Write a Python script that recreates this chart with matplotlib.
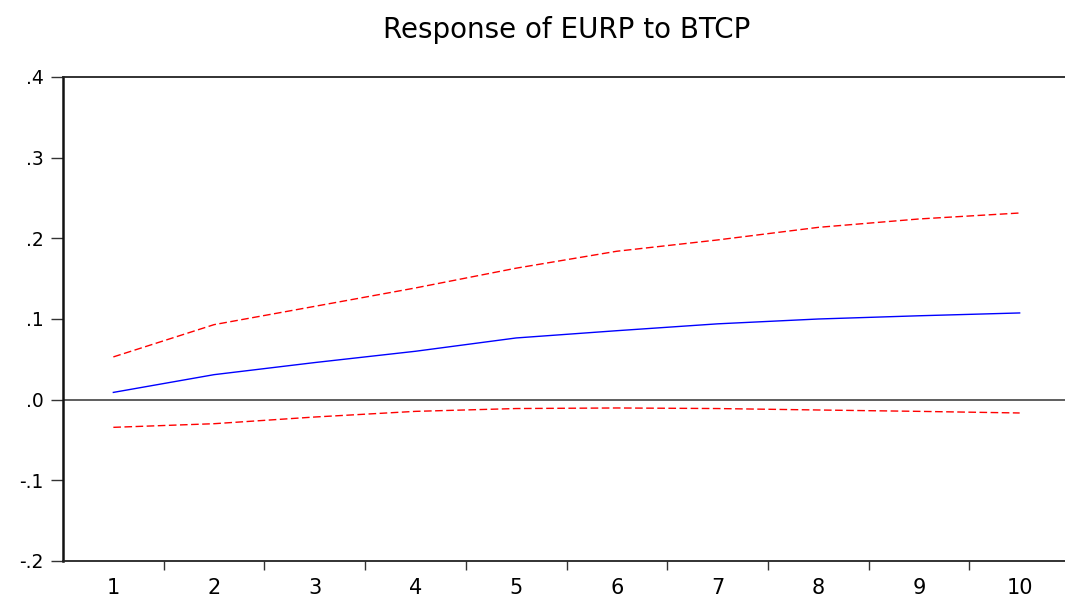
import numpy as np
import matplotlib.pyplot as plt
from matplotlib.ticker import FixedLocator, FuncFormatter

# impulse response of EURP to a BTCP shock, with +/- 2 S.E. bands
periods = np.arange(1, 11)
response = [0.009, 0.031, 0.046, 0.060, 0.0765, 0.0855, 0.094, 0.100, 0.104, 0.1075]
upper_band = [0.053, 0.093, 0.1157, 0.1385, 0.163, 0.184, 0.198, 0.2136, 0.224, 0.2314]
lower_band = [-0.0343, -0.0298, -0.0215, -0.0145, -0.011, -0.0103, -0.011, -0.0128, -0.0145, -0.0165]

plt.rcParams['font.family'] = ['DejaVu Sans']

fig = plt.figure(figsize=(10.65, 5.99), dpi=100)
ax = fig.add_axes([63/1065, 38/599, 1007/1065, 484/599])

ax.axhline(0, color='#333333', lw=1.1, zorder=1)
ax.plot(periods, response, color='blue', lw=1.0, zorder=3)
ax.plot(periods, upper_band, color='red', lw=1.0, dashes=(5.5, 2.5), zorder=2)
ax.plot(periods, lower_band, color='red', lw=1.0, dashes=(5.5, 2.5), zorder=2)

ax.set_xlim(0.5, 10.5)
ax.set_ylim(-0.2, 0.4)

# category labels in the middle, tick marks on the boundaries
ax.set_xticks(periods)
ax.set_xticklabels([str(p) for p in periods])
ax.xaxis.set_minor_locator(FixedLocator(np.arange(1.5, 10, 1.0)))
ax.tick_params(axis='x', which='major', length=0, pad=12, labelsize=15)
ax.tick_params(axis='x', which='minor', direction='out', length=6.5, width=1.0, color='#333333')

ax.set_yticks(np.arange(-0.2, 0.41, 0.1))
ax.yaxis.set_major_formatter(FuncFormatter(
    lambda v, pos: ('-' if v < -1e-9 else '') + ('%.1f' % abs(v)).lstrip('0')))
ax.tick_params(axis='y', direction='out', length=9, width=1.0, pad=5,
               labelsize=13.5, color='#333333')

for side in ['top', 'bottom', 'right']:
    ax.spines[side].set_linewidth(1.3)
    ax.spines[side].set_color('#222222')
ax.spines['left'].set_linewidth(1.8)
ax.spines['left'].set_color('#111111')

ax.set_title('Response of EURP to BTCP', fontsize=20, pad=28)

fig.savefig('out.png', dpi=100)
